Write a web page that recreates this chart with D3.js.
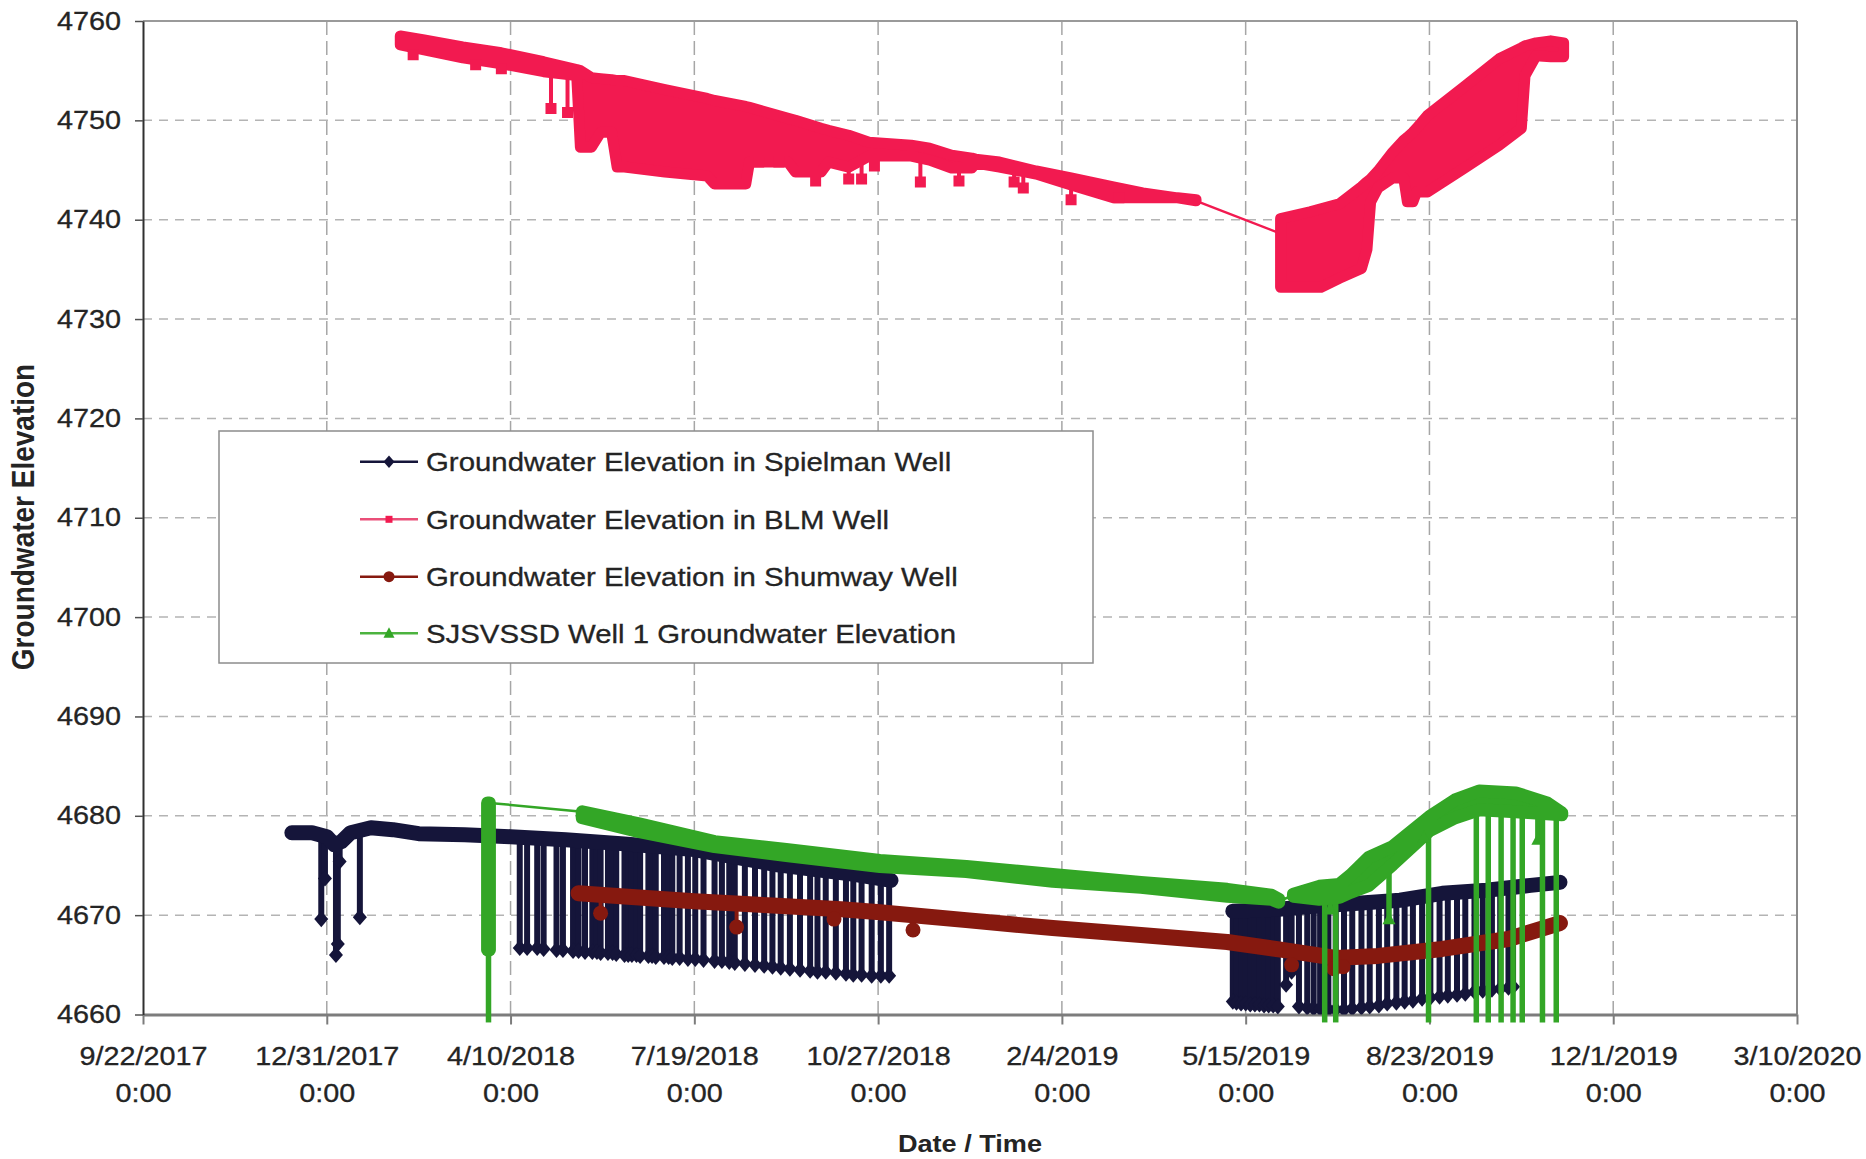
<!DOCTYPE html>
<html>
<head>
<meta charset="utf-8">
<script src="https://cdn.jsdelivr.net/npm/d3@7"></script>
<style>
  html, body { margin: 0; padding: 0; background: #fff; }
  svg { display: block; }
</style>
</head>
<body>
<svg id="chart" width="1866" height="1159"></svg>
<script>
// x values are days after 9/22/2017 0:00 (left end of the date axis)
const xTickDays = [0, 100, 200, 300, 400, 500, 600, 700, 800, 900];
const xTickLabels = ['9/22/2017', '12/31/2017', '4/10/2018', '7/19/2018', '10/27/2018',
  '2/4/2019', '5/15/2019', '8/23/2019', '12/1/2019', '3/10/2020'];
const xTickTime = '0:00';
const yTicks = [4660, 4670, 4680, 4690, 4700, 4710, 4720, 4730, 4740, 4750, 4760];

// Spielman well: logged trail [day, elevation] and short drops [day, from, to]
const spielmanTrail1 = [[81, 4678.3], [92, 4678.3], [100, 4677.9], [104, 4677.1], [108, 4677.4],
  [113, 4678.3], [124, 4678.8], [136, 4678.6], [150, 4678.2], [175, 4678.1], [200, 4677.9],
  [230, 4677.6], [260, 4677.2], [300, 4676.6], [344, 4675.1], [387, 4674.1], [407, 4673.5]];
const spielmanTrail2 = [[593, 4670.4], [618, 4670.6], [637, 4670.9], [661, 4671.2], [684, 4671.5],
  [707, 4672.2], [731, 4672.5], [755, 4673.0], [771, 4673.3]];
const spielmanDrops = [
  [97, 4678.1, 4669.6], [99, 4678.0, 4673.7], [105, 4677.2, 4666.0], [106, 4677.2, 4667.1],
  [107, 4677.3, 4675.4], [118, 4678.5, 4669.8],
  [205, 4677.9, 4666.7], [209, 4677.8, 4666.7], [214.5, 4677.8, 4666.7], [218, 4677.7, 4666.6],
  [225, 4677.7, 4666.5], [228.5, 4677.6, 4666.5], [234, 4677.6, 4666.4], [237, 4677.5, 4666.4],
  [240.5, 4677.5, 4666.3], [244.5, 4677.4, 4666.3], [247, 4677.4, 4666.3], [249, 4677.4, 4666.2],
  [253, 4677.3, 4666.2], [255.5, 4677.3, 4666.2], [257.5, 4677.3, 4666.1], [262, 4677.2, 4666.0],
  [264, 4677.2, 4666.0], [266, 4677.1, 4666.0], [268.5, 4677.1, 4666.0], [270.5, 4677.1, 4665.9],
  [275, 4677.0, 4665.9], [277, 4677.0, 4665.9], [279, 4676.9, 4665.8], [283.5, 4676.9, 4665.8],
  [286, 4676.8, 4665.8], [288, 4676.8, 4665.7], [292, 4676.7, 4665.7], [296.5, 4676.7, 4665.6],
  [300.5, 4676.6, 4665.6], [305, 4676.4, 4665.5], [311, 4676.2, 4665.4], [315, 4676.1, 4665.4],
  [319, 4676.0, 4665.3], [322, 4675.9, 4665.2], [327.5, 4675.7, 4665.1], [333, 4675.5, 4665.0],
  [338, 4675.3, 4664.9], [342.5, 4675.2, 4664.8], [347, 4675.0, 4664.7], [352, 4674.9, 4664.6],
  [357.5, 4674.8, 4664.5], [363, 4674.7, 4664.4], [367, 4674.6, 4664.3], [371.5, 4674.5, 4664.3],
  [377, 4674.4, 4664.2], [382.5, 4674.3, 4664.1], [386.5, 4674.1, 4664.0], [391, 4674.0, 4664.0],
  [396.5, 4673.9, 4663.9], [401.5, 4673.7, 4663.9], [406, 4673.5, 4663.9],
  [593, 4670.4, 4661.3], [595, 4670.4, 4661.2], [597.5, 4670.5, 4661.1], [600, 4670.5, 4661.1],
  [602.5, 4670.5, 4661.0], [605, 4670.5, 4661.0], [607.5, 4670.5, 4661.0], [610, 4670.6, 4660.9],
  [612.5, 4670.6, 4660.9], [615, 4670.6, 4660.9], [617.5, 4670.6, 4660.8], [622, 4670.7, 4663.0],
  [625, 4670.7, 4664.3], [629, 4670.7, 4660.8], [633.5, 4670.8, 4660.7], [637, 4670.9, 4660.6],
  [640.5, 4670.9, 4660.6], [645, 4671.0, 4660.5], [649, 4671.0, 4660.5], [653.5, 4671.1, 4660.5],
  [658, 4671.1, 4660.6], [663, 4671.2, 4660.7], [667.5, 4671.3, 4660.8], [672.5, 4671.3, 4660.9],
  [677, 4671.4, 4661.1], [682, 4671.5, 4661.2], [686.5, 4671.6, 4661.3], [691, 4671.7, 4661.4],
  [696, 4671.9, 4661.6], [700.5, 4672.0, 4661.7], [705.5, 4672.1, 4661.8], [710, 4672.2, 4661.9],
  [715, 4672.3, 4662.0], [719.5, 4672.3, 4662.1], [724.5, 4672.4, 4662.3], [729, 4672.5, 4662.4],
  [734, 4672.6, 4662.5], [738.5, 4672.7, 4662.6], [743, 4672.8, 4662.7], [745.5, 4672.8, 4662.8]];

// BLM well: dense logging ranges [day, low, high], gap line and drops
const blmRun1 = [[140, 4757.6, 4758.5], [153, 4757.1, 4758.1], [174, 4756.3, 4757.4],
  [195, 4755.7, 4756.8], [218, 4754.9, 4755.9], [236, 4754.5, 4755.1], [238, 4747.3, 4755.0],
  [244, 4747.3, 4754.3], [249, 4748.8, 4754.2], [255, 4748.8, 4754.1], [258, 4745.3, 4754.0],
  [262, 4745.3, 4754.0], [284, 4744.8, 4753.1], [307, 4744.4, 4752.2], [311, 4743.6, 4752.0],
  [328, 4743.6, 4751.4], [330, 4745.8, 4751.3], [351, 4745.8, 4750.2], [355, 4744.8, 4750.0],
  [369, 4744.8, 4749.2], [373, 4745.8, 4749.0], [384, 4745.3, 4748.5], [395, 4746.4, 4747.8],
  [418, 4746.4, 4747.5], [428, 4746.0, 4747.2], [440, 4745.2, 4746.5], [451, 4745.2, 4746.2],
  [453, 4745.7, 4746.1], [466, 4745.3, 4745.8], [486, 4744.6, 4744.9], [505, 4743.5, 4744.2],
  [528, 4742.2, 4743.3], [544, 4742.2, 4742.7], [563, 4742.2, 4742.2], [573, 4741.9, 4742.0]];
const blmGap = [[573, 4741.9], [619, 4738.6]];
const blmRun2 = [[619, 4733.2, 4740.1], [635, 4733.2, 4740.8], [641, 4733.2, 4741.1],
  [651, 4734.1, 4741.6], [663, 4735.1, 4743.3], [666, 4737.0, 4743.8], [668, 4741.8, 4744.1],
  [672, 4743.2, 4744.9], [680, 4744.2, 4746.8], [686, 4744.2, 4748.0], [688, 4741.8, 4748.3],
  [691, 4741.8, 4748.8], [693, 4742.8, 4749.2], [699, 4742.8, 4750.5], [719, 4745.2, 4753.4],
  [738, 4747.5, 4756.2], [750, 4749.2, 4757.3], [752, 4754.5, 4757.5], [758, 4756.5, 4757.8],
  [766, 4756.4, 4758.0], [773, 4756.4, 4757.8]];
const blmDrops = [[147, 4757.5, 4756.6], [181, 4756.5, 4755.6], [195, 4755.8, 4755.2],
  [222, 4754.9, 4751.2], [231, 4754.6, 4750.8], [335, 4751.0, 4745.8], [346, 4750.4, 4745.8],
  [366, 4749.4, 4743.9], [384, 4748.5, 4744.1], [391, 4748.1, 4744.1], [398, 4747.8, 4745.4],
  [423, 4747.2, 4743.8], [444, 4746.5, 4743.9], [474, 4745.4, 4743.8], [479, 4745.3, 4743.2],
  [505, 4744.2, 4742.0], [531, 4743.1, 4742.2]];

// Shumway well
const shumwayTrail = [[237, 4672.2], [260, 4671.9], [300, 4671.4], [340, 4671.0], [380, 4670.6],
  [401, 4670.3], [448, 4669.5], [495, 4668.7], [543, 4668.0], [590, 4667.3], [620, 4666.5],
  [649, 4665.7], [672, 4665.9], [707, 4666.6], [743, 4667.6], [771, 4669.2]];
const shumwayDrops = [[249, 4672.0, 4670.2], [323, 4671.2, 4668.8], [376, 4670.7, 4669.6],
  [419, 4670.0, 4668.5], [625, 4666.4, 4665.0], [648, 4665.7, 4664.6], [653, 4665.7, 4664.8]];

// SJSVSSD Well 1
const wellRun1 = [[187.5, 4666.5, 4681.3], [188.5, 4666.5, 4681.3]];
const wellGap1 = [[188.5, 4681.3], [239, 4680.4]];
const wellRun2 = [[239, 4679.8, 4680.4], [270, 4678.4, 4679.2], [311, 4676.9, 4677.4],
  [350, 4676.0, 4676.6], [401, 4674.9, 4675.5], [448, 4674.4, 4674.9], [495, 4673.4, 4674.1],
  [543, 4672.8, 4673.3], [590, 4671.9, 4672.6], [614, 4671.6, 4672.0], [618, 4671.3, 4671.6]];
const wellGap2 = [[618, 4671.4], [626, 4672.0]];
const wellRun3 = [[626, 4671.9, 4672.1], [640, 4671.6, 4672.9], [651, 4671.8, 4673.1],
  [657, 4672.3, 4674.0], [667, 4673.0, 4675.8], [680, 4675.1, 4676.9], [700, 4678.5, 4679.9],
  [714, 4679.8, 4681.6], [727, 4680.6, 4682.5], [747, 4680.4, 4682.3], [764, 4680.2, 4681.3],
  [772, 4680.1, 4680.3]];
const wellDrops = [[188, 4666.5, 4659.2], [643, 4672.0, 4659.2], [646, 4672.0, 4670.6],
  [649, 4672.0, 4659.2], [678, 4675.8, 4669.6], [697, 4679.2, 4677.8], [699.5, 4679.6, 4659.2],
  [725.5, 4681.0, 4659.2], [732, 4681.2, 4659.2], [739, 4681.2, 4659.2], [745.5, 4681.0, 4659.2],
  [750.5, 4680.9, 4659.2], [759, 4680.8, 4677.6], [761.5, 4680.8, 4659.2], [769, 4680.4, 4659.2]];

const seriesNames = ['Groundwater Elevation in Spielman Well', 'Groundwater Elevation in BLM Well',
  'Groundwater Elevation in Shumway Well', 'SJSVSSD Well 1 Groundwater Elevation'];

const FONT = "'Liberation Sans', Arial, Helvetica, sans-serif";
const TEXT_COLOR = '#242424';
const STRETCH = 1.13; // the source picture is widened horizontally
const PLOT = { left: 143, right: 1797, top: 21, bottom: 1014.5 };

const series = [
  { name: seriesNames[0], color: '#15153a', marker: 'diamond', size: 7,
    trails: [spielmanTrail1, spielmanTrail2], trailWidth: 15, bands: [], gaps: [],
    drops: spielmanDrops, dropWidth: 6 },
  { name: seriesNames[1], color: '#f21a50', legendColor: '#ea4f78', marker: 'square', size: 5.5,
    trails: [], bands: [blmRun1, blmRun2], gaps: [blmGap], drops: blmDrops, dropWidth: 4 },
  { name: seriesNames[2], color: '#86190f', marker: 'circle', size: 7.5,
    trails: [shumwayTrail], trailWidth: 16, bands: [], gaps: [], drops: shumwayDrops, dropWidth: 4 },
  { name: seriesNames[3], color: '#33a626', legendColor: '#4cb33f', marker: 'triangle', size: 6.5,
    trails: [], bands: [wellRun1, wellRun2, wellRun3], gaps: [wellGap1, wellGap2],
    drops: wellDrops, dropWidth: 5.5 }
];

const svg = d3.select('#chart');
svg.append('rect').attr('width', 1866).attr('height', 1159).attr('fill', '#ffffff');

const x = d3.scaleLinear().domain([0, 900]).range([PLOT.left, PLOT.right]);
const y = d3.scaleLinear().domain([4660, 4760]).range([PLOT.bottom, PLOT.top]);

function markerPath(type, r) {
  switch (type) {
    case 'diamond': return `M0,${-r * 1.15}L${r},0L0,${r * 1.15}L${-r},0Z`;
    case 'square': return `M${-r},${-r}h${2 * r}v${2 * r}h${-2 * r}Z`;
    case 'triangle': return `M0,${-r * 1.1}L${r},${r * 0.8}L${-r},${r * 0.8}Z`;
    default: return `M${r},0A${r},${r} 0 1,1 ${-r},0A${r},${r} 0 1,1 ${r},0Z`;
  }
}

function stretchText(sel) {
  sel.each(function() {
    const t = d3.select(this);
    const tx = +t.attr('x') || 0;
    const ty = +t.attr('y') || 0;
    t.attr('x', 0).attr('y', 0)
      .attr('transform', `translate(${tx},${ty}) scale(${STRETCH},1)`);
  });
}

// clip for markers
svg.append('defs').append('clipPath').attr('id', 'plot-clip')
  .append('rect')
  .attr('x', PLOT.left).attr('y', PLOT.top)
  .attr('width', PLOT.right - PLOT.left).attr('height', PLOT.bottom - PLOT.top);

// grid lines
const grid = svg.append('g').attr('class', 'grid');
grid.selectAll('line.hgrid')
  .data(yTicks.filter(v => v !== 4660 && v !== 4760))
  .join('line')
  .attr('class', 'hgrid')
  .attr('x1', PLOT.left).attr('x2', PLOT.right)
  .attr('y1', d => y(d)).attr('y2', d => y(d))
  .attr('stroke', '#b4b4b4').attr('stroke-width', 1.5)
  .attr('stroke-dasharray', '9,7');
grid.selectAll('line.vgrid')
  .data(xTickDays.filter(d => d !== 0 && d !== 900))
  .join('line')
  .attr('class', 'vgrid')
  .attr('x1', d => x(d)).attr('x2', d => x(d))
  .attr('y1', PLOT.top).attr('y2', PLOT.bottom)
  .attr('stroke', '#a6a6a6').attr('stroke-width', 1.5)
  .attr('stroke-dasharray', '14,6');

// plot frame (top and right)
svg.append('line').attr('x1', PLOT.left).attr('x2', PLOT.right).attr('y1', PLOT.top).attr('y2', PLOT.top)
  .attr('stroke', '#9a9a9a').attr('stroke-width', 2);
svg.append('line').attr('x1', PLOT.right).attr('x2', PLOT.right).attr('y1', PLOT.top).attr('y2', PLOT.bottom)
  .attr('stroke', '#8a8a8a').attr('stroke-width', 2);

// x axis
const xAxis = d3.axisBottom(x).tickValues(xTickDays).tickSize(10).tickSizeOuter(0)
  .tickFormat((d, i) => xTickLabels[i]);
const gx = svg.append('g').attr('class', 'axis axis-x')
  .attr('transform', `translate(0,${PLOT.bottom})`)
  .call(xAxis)
  .attr('font-family', FONT).attr('font-size', 25.5);
gx.select('.domain').attr('stroke', '#7c7c7c').attr('stroke-width', 3);
gx.selectAll('.tick line').attr('stroke', '#7c7c7c').attr('stroke-width', 2);
gx.selectAll('.tick text').each(function() {
  const t = d3.select(this);
  const label = t.text();
  t.text(null).attr('y', null).attr('dy', null)
    .attr('fill', TEXT_COLOR).attr('stroke', TEXT_COLOR).attr('stroke-width', 0.3)
    .attr('transform', `scale(${STRETCH},1)`);
  t.append('tspan').attr('x', 0).attr('y', 50.5).text(label);
  t.append('tspan').attr('x', 0).attr('y', 87.5).text(xTickTime);
});

// y axis
const yAxis = d3.axisLeft(y).tickValues(yTicks).tickSize(8).tickSizeOuter(0).tickPadding(14)
  .tickFormat(d3.format('d'));
const gy = svg.append('g').attr('class', 'axis axis-y')
  .attr('transform', `translate(${PLOT.left},0)`)
  .call(yAxis)
  .attr('font-family', FONT).attr('font-size', 25.5);
gy.select('.domain').attr('stroke', '#303030').attr('stroke-width', 2);
gy.selectAll('.tick line').attr('stroke', '#505050').attr('stroke-width', 1.5);
gy.selectAll('.tick text')
  .attr('fill', TEXT_COLOR).attr('stroke', TEXT_COLOR).attr('stroke-width', 0.3)
  .call(stretchText);

// axis titles
svg.append('text')
  .attr('transform', `translate(${(PLOT.left + PLOT.right) / 2},1152) scale(${STRETCH},1)`)
  .attr('text-anchor', 'middle')
  .attr('font-family', FONT).attr('font-size', 24).attr('font-weight', 'bold')
  .attr('fill', TEXT_COLOR)
  .text('Date / Time');
svg.append('text')
  .attr('transform', `translate(34,517) rotate(-90) scale(1,${STRETCH})`)
  .attr('text-anchor', 'middle')
  .attr('font-family', FONT).attr('font-size', 28).attr('font-weight', 'bold')
  .attr('fill', TEXT_COLOR)
  .text('Groundwater Elevation');

// series, drawn in workbook order so the well 1 trace ends up on top
const line = d3.line().x(d => x(d[0])).y(d => y(d[1]));
const area = d3.area().x(d => x(d[0])).y0(d => y(d[1])).y1(d => y(d[2]));

series.forEach(s => {
  const g = svg.append('g').attr('class', 'series');

  g.selectAll('path.gap').data(s.gaps).join('path')
    .attr('class', 'gap')
    .attr('d', line)
    .attr('fill', 'none').attr('stroke', s.color).attr('stroke-width', 2.5);

  g.selectAll('line.drop').data(s.drops).join('line')
    .attr('class', 'drop')
    .attr('x1', d => x(d[0])).attr('x2', d => x(d[0]))
    .attr('y1', d => y(d[1])).attr('y2', d => y(d[2]))
    .attr('stroke', s.color).attr('stroke-width', s.dropWidth);

  g.selectAll('path.band').data(s.bands).join('path')
    .attr('class', 'band')
    .attr('d', area)
    .attr('fill', s.color).attr('stroke', s.color)
    .attr('stroke-width', s.size * 2).attr('stroke-linejoin', 'round');

  g.selectAll('path.trail').data(s.trails).join('path')
    .attr('class', 'trail')
    .attr('d', line)
    .attr('fill', 'none').attr('stroke', s.color)
    .attr('stroke-width', s.trailWidth)
    .attr('stroke-linejoin', 'round').attr('stroke-linecap', 'round');

  g.append('g').attr('clip-path', 'url(#plot-clip)')
    .selectAll('path.marker').data(s.drops).join('path')
    .attr('class', 'marker')
    .attr('transform', d => `translate(${x(d[0])},${y(d[2])})`)
    .attr('d', markerPath(s.marker, s.size))
    .attr('fill', s.color);
});

// legend
const legend = svg.append('g').attr('class', 'legend');
legend.append('rect')
  .attr('x', 219).attr('y', 431).attr('width', 874).attr('height', 232)
  .attr('fill', '#ffffff').attr('stroke', '#8c8c8c').attr('stroke-width', 1.5);
const legendRows = [461.7, 519.3, 576.7, 633.3];
const item = legend.selectAll('g.item').data(series).join('g')
  .attr('class', 'item')
  .attr('transform', (d, i) => `translate(0,${legendRows[i]})`);
item.append('line')
  .attr('x1', 360).attr('x2', 418).attr('y1', 0).attr('y2', 0)
  .attr('stroke', d => d.legendColor || d.color).attr('stroke-width', 2.5);
item.append('path')
  .attr('transform', 'translate(389,0)')
  .attr('d', d => markerPath(d.marker, d.marker === 'square' ? 3.5 : 5.5))
  .attr('fill', d => d.color);
item.append('text')
  .attr('transform', `translate(426,0) scale(${STRETCH},1)`)
  .attr('dy', '0.36em')
  .attr('font-family', FONT).attr('font-size', 26)
  .attr('fill', TEXT_COLOR).attr('stroke', TEXT_COLOR).attr('stroke-width', 0.3)
  .text(d => d.name);
</script>
</body>
</html>
